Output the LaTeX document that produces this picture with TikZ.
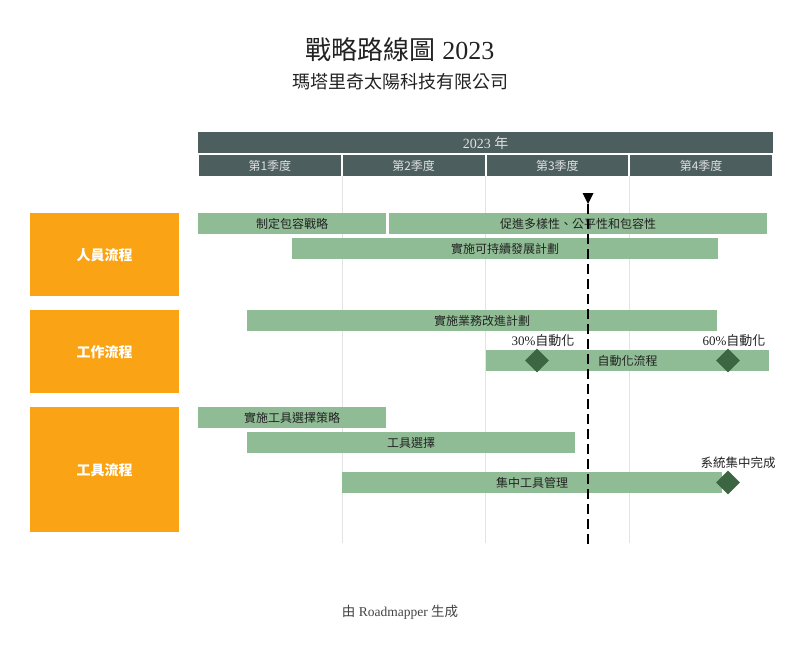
\documentclass[tikz,border=0pt]{standalone}
\usepackage{fontspec}
\setmainfont{Liberation Serif}
\newfontfamily\cjk{Noto Sans CJK TC}
\usetikzlibrary{shapes.geometric,positioning}
\definecolor{header}{HTML}{4D5E5E}
\definecolor{lane}{HTML}{FAA314}
\definecolor{barfill}{HTML}{8FBC94}
\definecolor{milestone}{HTML}{3C6542}
\definecolor{gridline}{HTML}{E3E3E3}
\definecolor{ink}{HTML}{222222}

\begin{document}
\begin{tikzpicture}[x=1pt, y=-1pt,
  every node/.style={inner sep=0pt, text=ink},
  headbox/.style={fill=header, text=white!88!black, minimum height=21, font=\fontsize{12}{14}\selectfont},
  lanebox/.style={fill=lane, anchor=north west, minimum width=149, text=white, font=\cjk\bfseries\fontsize{14}{16}\selectfont},
  barbox/.style={fill=barfill, anchor=north west, minimum height=21, font=\cjk\fontsize{12}{14}\selectfont},
  mstone/.style={diamond, fill=milestone, minimum width=24, minimum height=24},
  mslabel/.style={font=\fontsize{13}{15}\selectfont}]
\useasboundingbox (0,0) rectangle (800,650);

% title
\node[font=\fontsize{26}{30}\selectfont] (title) at (400,50) {{\cjk 戰略路線圖} 2023};
\node[font=\cjk\fontsize{18}{22}\selectfont] (subtitle) at (400,82) {瑪塔里奇太陽科技有限公司};

% time axis
\node[headbox, anchor=north west, minimum width=575, font=\fontsize{14}{16}\selectfont] (year) at (198,132) {2023 {\cjk 年}};
\foreach \q in {1,...,4} {
  \node[headbox, minimum width=141.75, font=\cjk\fontsize{12}{14}\selectfont] (q\q) at ({198+(\q-0.5)*143.75},165.5) {第\q 季度};
}
\foreach \x in {341.75, 485.5, 629.25} {
  \draw[gridline] (\x,176) -- (\x,543);
}

% swimlanes
\node[lanebox, minimum height=83] (people) at (30,213) {人員流程};
\node[lanebox, minimum height=83] (work) at (30,310) {工作流程};
\node[lanebox, minimum height=125] (tools) at (30,407) {工具流程};

% people
\node[barbox, minimum width=188] (strategy) at (198,213) {制定包容戰略};
\node[barbox, minimum width=378] (diversity) at (389,213) {促進多樣性、公平性和包容性};
\node[barbox, minimum width=426] (sustain) at (292,238) {實施可持續發展計劃};

% work
\node[barbox, minimum width=470] (improve) at (247,310) {實施業務改進計劃};
\node[barbox, minimum width=283] (automate) at (486,350) {自動化流程};
\node[mstone] (auto30) at (537,360.5) {};
\node[mstone] (auto60) at (728,360.5) {};
\node[mslabel] (auto30 label) at (543,341) {30\%{\cjk 自動化}};
\node[mslabel] (auto60 label) at (734,341) {60\%{\cjk 自動化}};

% tools
\node[barbox, minimum width=188] (toolplan) at (198,407) {實施工具選擇策略};
\node[barbox, minimum width=328] (toolpick) at (247,432) {工具選擇};
\node[barbox, minimum width=380] (central) at (342,472) {集中工具管理};
\node[mstone] (centraldone) at (728,482.5) {};
\node[mslabel, font=\cjk\fontsize{12.5}{15}\selectfont] (centraldone label) at (738,463) {系統集中完成};

% today
\coordinate (today top) at (588,204);
\coordinate (today bottom) at (588,545);
\fill[black] (582.5,193) -- (593.5,193) -- (today top) -- cycle;
\draw[black, line width=2pt, dash pattern=on 10pt off 5pt] (today top) -- (today bottom);

% footer
\node[font=\fontsize{13.5}{15}\selectfont, text=ink!85] (footer) at (400,612) {{\cjk 由} Roadmapper {\cjk 生成}};
\end{tikzpicture}
\end{document}
